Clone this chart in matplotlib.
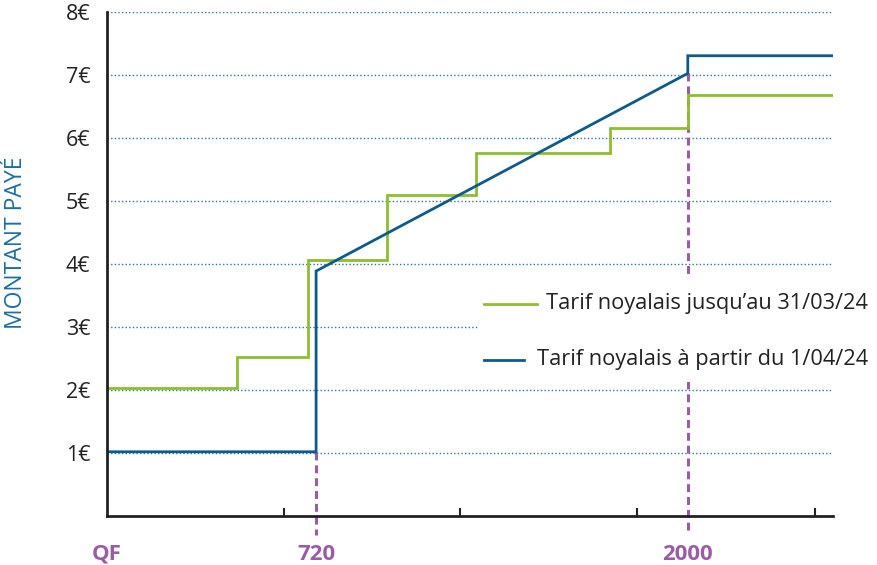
import matplotlib
matplotlib.use("Agg")
import matplotlib.pyplot as plt
from matplotlib.lines import Line2D
from matplotlib.patches import Rectangle

plt.rcParams["font.family"] = ["Open Sans", "DejaVu Sans"]

# ancien tarif (escalier) : bornes QF et montant
old_qf = [0, 448, 448, 692, 692, 964, 964, 1271, 1271, 1733, 1733, 2000, 2000, 2500]
old_price = [2.03, 2.03, 2.52, 2.52, 4.07, 4.07, 5.10, 5.10, 5.76, 5.76, 6.16, 6.16, 6.68, 6.68]

# nouveau tarif (taux d'effort linéaire)
new_qf = [0, 720, 720, 2000, 2000, 2500]
new_price = [1.02, 1.02, 3.89, 7.03, 7.31, 7.31]

y_ticks = [1, 2, 3, 4, 5, 6, 7, 8]
y_labels = [f"{v}€" for v in y_ticks]
x_marks = [0, 720, 2000]
x_mark_labels = ["QF", "720", "2000"]
x_minor = [610, 1216, 1826, 2439]
seuils = [(720, 1.02), (2000, 7.03)]

GREEN = "#8cbf2f"
BLUE = "#0f5a8c"
PURPLE = "#9b5ca6"
GRID = "#2f74a6"

fig = plt.figure(figsize=(8.78, 5.65), dpi=100)
ax = fig.add_axes([107 / 878, 1 - 516 / 565, (833 - 107) / 878, (516 - 12.3) / 565])

ax.set_xlim(0, 2500)
ax.set_ylim(0, 8)

for v in y_ticks:
    ax.axhline(v, color=GRID, lw=1.0, ls=(0, (1, 1.6)), zorder=1)

for x, y in seuils:
    ax.plot([x, x], [y, -0.3], color=PURPLE, lw=2.2, ls=(0, (2.6, 1.6)),
            clip_on=False, zorder=2)

# cache blanc derrière la légende
ax.add_patch(Rectangle((1277, 2.13), 1300, 1.65, facecolor="white",
                       edgecolor="none", zorder=3, clip_on=False))

ax.plot(old_qf, old_price, color=GREEN, lw=2.0, zorder=4, solid_joinstyle="miter")
ax.plot(new_qf, new_price, color=BLUE, lw=2.0, zorder=5, solid_joinstyle="miter")

for s in ["top", "right"]:
    ax.spines[s].set_visible(False)
for s in ["left", "bottom"]:
    ax.spines[s].set_color("#222222")
    ax.spines[s].set_linewidth(2)
    ax.spines[s].set_zorder(6)

ax.set_yticks(y_ticks, y_labels)
ax.tick_params(axis="y", length=0, pad=12, labelsize=15.5, labelcolor="#222222")

ax.set_xticks(x_marks, x_mark_labels)
ax.set_xticks(x_minor, minor=True)
ax.tick_params(axis="x", which="major", length=0, pad=20, labelsize=16,
               labelcolor=PURPLE)
ax.tick_params(axis="x", which="minor", direction="in", length=6, width=1.5,
               color="#222222")
for t in ax.get_xticklabels():
    t.set_fontweight("bold")

fig.text(16.5 / 878, 1 - 243 / 565, "MONTANT PAYÉ", rotation=90, ha="center",
         va="center", fontsize=16.5, color="#1c6ea4")

# légende dessinée à la main, texte aligné à droite
leg = [(GREEN, "Tarif noyalais jusqu’au 31/03/24", 304, 537),
       (BLUE, "Tarif noyalais à partir du 1/04/24", 360, 524)]
for color, label, ypx, x_end in leg:
    yf = 1 - ypx / 565
    fig.add_artist(Line2D([484 / 878, x_end / 878], [yf, yf], color=color, lw=2.0))
    fig.text(868 / 878, yf, label, ha="right", va="center", fontsize=15.7,
             color="#222222")

fig.savefig("out.png", dpi=100)
